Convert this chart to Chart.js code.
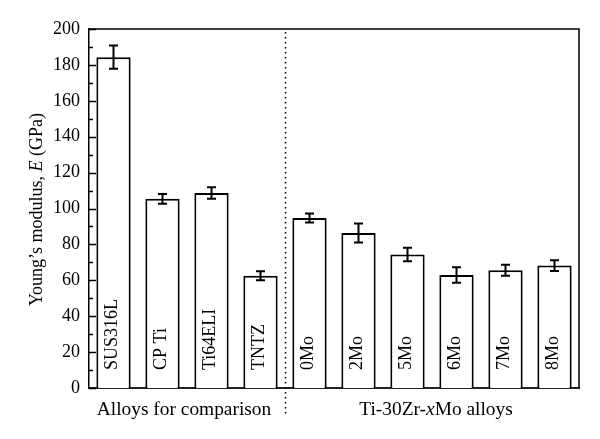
<!DOCTYPE html>
<html>
<head>
<meta charset="utf-8">
<script src="https://cdn.jsdelivr.net/npm/chart.js@4"></script>
<style>
  html, body { margin: 0; padding: 0; background: #fff; }
  canvas { display: block; }
</style>
</head>
<body>
<canvas id="modulusChart" width="600" height="439"></canvas>
<script>
// datos
const alloys = ["SUS316L", "CP Ti", "Ti64ELI", "TNTZ", "0Mo", "2Mo", "5Mo", "6Mo", "7Mo", "8Mo"];
const modulus = [184.3, 105.4, 108.6, 62.5, 94.7, 86.3, 74.4, 63.0, 65.6, 68.2];
const modulusErr = [6.5, 2.7, 3.2, 2.5, 2.5, 5.3, 3.8, 4.3, 3.0, 3.0];
const groupNames = ["Alloys for comparison", "Ti-30Zr-xMo alloys"];
const groupFirst = [0, 4];
const groupLast = [3, 9];
const yTicks = [0, 20, 40, 60, 80, 100, 120, 140, 160, 180, 200];

const SERIF = '"Liberation Serif", "DejaVu Serif", serif';

// texto con partes en cursiva
function drawRich(ctx, parts, size) {
    let total = 0;
    parts.forEach(p => {
        ctx.font = (p.italic ? "italic " : "") + size + "px " + SERIF;
        p.w = ctx.measureText(p.text).width;
        total += p.w;
    });
    let x = -total / 2;
    parts.forEach(p => {
        ctx.font = (p.italic ? "italic " : "") + size + "px " + SERIF;
        ctx.fillText(p.text, x, 0);
        x += p.w;
    });
}

const decoPlugin = {
    id: "deco",
    afterDatasetsDraw(chart) {
        const ctx = chart.ctx;
        const area = chart.chartArea;
        const xs = chart.scales.x;
        const ys = chart.scales.y;
        const meta = chart.getDatasetMeta(0);
        ctx.save();
        ctx.strokeStyle = "#000";
        ctx.fillStyle = "#000";

        // marco superior y derecho
        ctx.lineWidth = 1.5;
        ctx.beginPath();
        ctx.moveTo(area.left, area.top);
        ctx.lineTo(area.right, area.top);
        ctx.lineTo(area.right, area.bottom);
        ctx.stroke();

        // ticks hacia dentro
        ctx.lineWidth = 1.5;
        for (let v = 0; v <= 200; v += 10) {
            const y = Math.round(ys.getPixelForValue(v)) + 0.5;
            const len = v % 20 === 0 ? 7 : 4;
            ctx.beginPath();
            ctx.moveTo(area.left, y);
            ctx.lineTo(area.left + len, y);
            ctx.stroke();
        }

        // barras de error
        ctx.lineWidth = 2;
        meta.data.forEach((bar, i) => {
            const x = bar.x;
            const yTop = ys.getPixelForValue(modulus[i] + modulusErr[i]);
            const yBot = ys.getPixelForValue(modulus[i] - modulusErr[i]);
            ctx.beginPath();
            ctx.moveTo(x, yTop);
            ctx.lineTo(x, yBot);
            ctx.moveTo(x - 4.5, yTop);
            ctx.lineTo(x + 4.5, yTop);
            ctx.moveTo(x - 4.5, yBot);
            ctx.lineTo(x + 4.5, yBot);
            ctx.stroke();
        });

        // nombres dentro de las barras
        ctx.font = "18px " + SERIF;
        ctx.textAlign = "left";
        ctx.textBaseline = "middle";
        meta.data.forEach((bar, i) => {
            ctx.save();
            ctx.translate(bar.x - 1, area.bottom - 18);
            ctx.rotate(-Math.PI / 2);
            ctx.fillText(alloys[i], 0, 0);
            ctx.restore();
        });

        // línea punteada entre grupos
        const xd = Math.round(xs.getPixelForValue(3.5)) + 0.5;
        ctx.lineWidth = 1.5;
        ctx.setLineDash([1.5, 3.5]);
        ctx.beginPath();
        ctx.moveTo(xd, area.top + 3);
        ctx.lineTo(xd, area.bottom + 26);
        ctx.stroke();
        ctx.setLineDash([]);

        // etiquetas de grupo
        ctx.textAlign = "left";
        ctx.textBaseline = "alphabetic";
        groupNames.forEach((name, g) => {
            const cx = (xs.getPixelForValue(groupFirst[g]) + xs.getPixelForValue(groupLast[g])) / 2;
            ctx.save();
            ctx.translate(cx + (g === 1 ? 4 : -3), area.bottom + 27);
            const idx = name.indexOf("x");
            const parts = g === 1
                ? [{ text: name.slice(0, idx) }, { text: "x", italic: true }, { text: name.slice(idx + 1) }]
                : [{ text: name }];
            drawRich(ctx, parts, 19.4);
            ctx.restore();
        });

        // título eje y
        ctx.save();
        ctx.translate(42, (area.top + area.bottom) / 2 + 1);
        ctx.rotate(-Math.PI / 2);
        drawRich(ctx, [
            { text: "Young\u2019s modulus, " },
            { text: "E", italic: true },
            { text: " (GPa)" }
        ], 18);
        ctx.restore();

        ctx.restore();
    }
};

document.addEventListener("DOMContentLoaded", function () {
    const ctx = document.getElementById("modulusChart").getContext("2d");
    new Chart(ctx, {
        type: "bar",
        data: {
            labels: alloys,
            datasets: [{
                data: modulus,
                backgroundColor: "#fff",
                borderColor: "#000",
                borderWidth: 2,
                barPercentage: 0.7,
                categoryPercentage: 1.0
            }]
        },
        options: {
            responsive: false,
            animation: false,
            devicePixelRatio: 1,
            layout: { padding: { left: 0, right: 21, top: 29, bottom: 51 } },
            plugins: {
                legend: { display: false },
                tooltip: { enabled: false }
            },
            scales: {
                x: {
                    grid: { display: false, drawTicks: false },
                    border: { display: true, color: "#222", width: 2 },
                    ticks: { display: false },
                    afterFit(scale) { scale.height = 0; }
                },
                y: {
                    min: 0,
                    max: 200,
                    afterBuildTicks(scale) { scale.ticks = yTicks.map(v => ({ value: v })); },
                    grid: { display: false, drawTicks: false },
                    border: { display: true, color: "#000", width: 1.5 },
                    ticks: {
                        color: "#000",
                        padding: 9,
                        font: { family: SERIF, size: 18 }
                    },
                    afterFit(scale) { scale.width = 89; }
                }
            }
        },
        plugins: [decoPlugin]
    });
});
</script>
</body>
</html>
